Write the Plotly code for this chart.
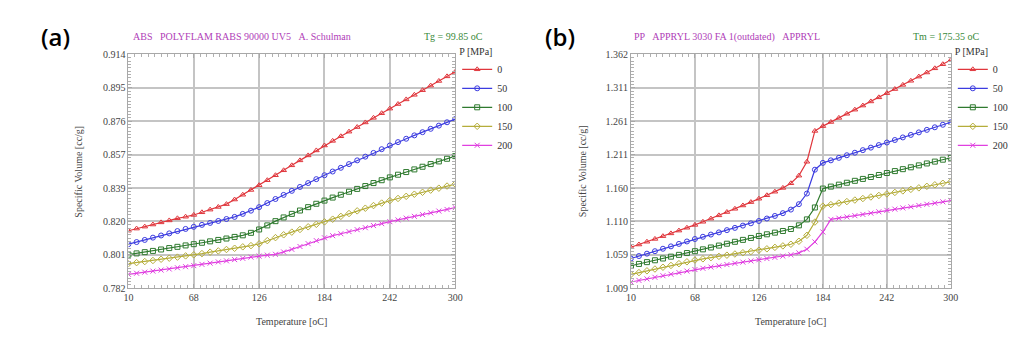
import plotly.graph_objects as go

# ---------------- data ----------------
temps = [10, 17.25, 24.5, 31.75, 39, 46.25, 53.5, 60.75, 68, 75.25, 82.5, 89.75, 97, 104.25,
         111.5, 118.75, 126, 133.25, 140.5, 147.75, 155, 162.25, 169.5, 176.75, 184, 191.25,
         198.5, 205.75, 213, 220.25, 227.5, 234.75, 242, 249.25, 256.5, 263.75, 271, 278.25,
         285.5, 292.75, 300]

pressures = ["0", "50", "100", "150", "200"]

abs_p0 = [0.8145, 0.8157, 0.8168, 0.8180, 0.8192, 0.8203, 0.8215, 0.8224, 0.8234, 0.8249, 0.8264,
          0.8279, 0.8295, 0.8321, 0.8348, 0.8375, 0.8402, 0.8430, 0.8458, 0.8486, 0.8514, 0.8542,
          0.8570, 0.8598, 0.8626, 0.8652, 0.8678, 0.8704, 0.8730, 0.8756, 0.8782, 0.8808, 0.8834,
          0.8860, 0.8886, 0.8912, 0.8938, 0.8964, 0.8990, 0.9016, 0.9042]
abs_p50 = [0.8069, 0.8081, 0.8093, 0.8106, 0.8118, 0.8130, 0.8143, 0.8155, 0.8167, 0.8178, 0.8189,
           0.8200, 0.8211, 0.8223, 0.8240, 0.8258, 0.8278, 0.8301, 0.8324, 0.8347, 0.8370, 0.8392,
           0.8414, 0.8436, 0.8458, 0.8479, 0.8500, 0.8521, 0.8542, 0.8563, 0.8584, 0.8605, 0.8626,
           0.8645, 0.8664, 0.8683, 0.8701, 0.8720, 0.8738, 0.8757, 0.8775]
abs_p100 = [0.8010, 0.8017, 0.8024, 0.8031, 0.8039, 0.8047, 0.8054, 0.8062, 0.8069, 0.8077, 0.8085,
            0.8093, 0.8101, 0.8110, 0.8119, 0.8133, 0.8152, 0.8175, 0.8199, 0.8220, 0.8240, 0.8259,
            0.8278, 0.8297, 0.8315, 0.8332, 0.8348, 0.8365, 0.8381, 0.8397, 0.8414, 0.8430, 0.8446,
            0.8461, 0.8476, 0.8491, 0.8506, 0.8521, 0.8536, 0.8551, 0.8566]
abs_p150 = [0.7959, 0.7965, 0.7971, 0.7977, 0.7984, 0.7990, 0.7996, 0.8003, 0.8009, 0.8016, 0.8024,
            0.8031, 0.8039, 0.8046, 0.8054, 0.8061, 0.8071, 0.8089, 0.8106, 0.8122, 0.8137, 0.8152,
            0.8167, 0.8181, 0.8195, 0.8210, 0.8226, 0.8242, 0.8257, 0.8272, 0.8287, 0.8301, 0.8315,
            0.8327, 0.8339, 0.8351, 0.8362, 0.8374, 0.8385, 0.8397, 0.8408]
abs_p200 = [0.7899, 0.7905, 0.7911, 0.7917, 0.7923, 0.7929, 0.7936, 0.7942, 0.7948, 0.7955, 0.7962,
            0.7969, 0.7975, 0.7982, 0.7989, 0.7996, 0.8002, 0.8007, 0.8012, 0.8025, 0.8040, 0.8056,
            0.8072, 0.8089, 0.8105, 0.8117, 0.8128, 0.8140, 0.8151, 0.8162, 0.8174, 0.8185, 0.8196,
            0.8206, 0.8216, 0.8226, 0.8236, 0.8246, 0.8256, 0.8265, 0.8275]

pp_p0 = [1.0710, 1.0751, 1.0793, 1.0835, 1.0877, 1.0919, 1.0961, 1.1004, 1.1047, 1.1094, 1.1142,
         1.1191, 1.1241, 1.1290, 1.1340, 1.1391, 1.1442, 1.1494, 1.1548, 1.1605, 1.1675, 1.1790,
         1.2000, 1.2465, 1.2538, 1.2600, 1.2662, 1.2724, 1.2786, 1.2848, 1.2910, 1.2972, 1.3035,
         1.3097, 1.3160, 1.3222, 1.3285, 1.3347, 1.3410, 1.3472, 1.3535]
pp_p50 = [1.0540, 1.0577, 1.0613, 1.0650, 1.0687, 1.0723, 1.0760, 1.0797, 1.0834, 1.0868, 1.0901,
          1.0934, 1.0968, 1.1002, 1.1036, 1.1071, 1.1106, 1.1143, 1.1182, 1.1224, 1.1278, 1.1360,
          1.1520, 1.1880, 1.1983, 1.2021, 1.2059, 1.2098, 1.2136, 1.2175, 1.2213, 1.2252, 1.2290,
          1.2328, 1.2367, 1.2405, 1.2443, 1.2481, 1.2520, 1.2558, 1.2596]
pp_p100 = [1.0430, 1.0458, 1.0485, 1.0513, 1.0540, 1.0568, 1.0595, 1.0622, 1.0650, 1.0678, 1.0706,
           1.0735, 1.0763, 1.0792, 1.0821, 1.0850, 1.0880, 1.0905, 1.0930, 1.0955, 1.0985, 1.1040,
           1.1130, 1.1310, 1.1595, 1.1625, 1.1654, 1.1683, 1.1712, 1.1741, 1.1770, 1.1800, 1.1830,
           1.1859, 1.1888, 1.1916, 1.1945, 1.1974, 1.2002, 1.2031, 1.2060]
pp_p150 = [1.0300, 1.0327, 1.0354, 1.0381, 1.0408, 1.0435, 1.0462, 1.0490, 1.0517, 1.0535, 1.0553,
           1.0572, 1.0590, 1.0608, 1.0627, 1.0645, 1.0665, 1.0686, 1.0708, 1.0730, 1.0755, 1.0800,
           1.0890, 1.1090, 1.1330, 1.1353, 1.1376, 1.1399, 1.1422, 1.1445, 1.1468, 1.1491, 1.1514,
           1.1537, 1.1560, 1.1583, 1.1606, 1.1629, 1.1652, 1.1675, 1.1698]
pp_p200 = [1.0185, 1.0209, 1.0232, 1.0256, 1.0280, 1.0303, 1.0327, 1.0350, 1.0373, 1.0392, 1.0411,
           1.0429, 1.0448, 1.0467, 1.0485, 1.0503, 1.0521, 1.0539, 1.0557, 1.0576, 1.0596, 1.0625,
           1.0680, 1.0790, 1.0940, 1.1130, 1.1148, 1.1167, 1.1186, 1.1205, 1.1225, 1.1245, 1.1267,
           1.1285, 1.1303, 1.1321, 1.1340, 1.1358, 1.1376, 1.1395, 1.1413]

x_ticks = [10, 68, 126, 184, 242, 300]
abs_yticks = [0.782, 0.80086, 0.81971, 0.83857, 0.85743, 0.87629, 0.89514, 0.914]
abs_ylabels = ["0.782", "0.801", "0.820", "0.839", "0.857", "0.876", "0.895", "0.914"]
pp_yticks = [1.009, 1.05943, 1.10986, 1.16029, 1.21071, 1.26114, 1.31157, 1.362]
pp_ylabels = ["1.009", "1.059", "1.110", "1.160", "1.211", "1.261", "1.311", "1.362"]

# ---------------- styles ----------------
colors = ["#e0363c", "#3c3ce0", "#2f7a2f", "#b5ad3a", "#e040e0"]
symbols = ["triangle-up-open", "circle-open", "square-open", "diamond-open", "x-thin-open"]
SERIF = "Liberation Serif"
TICKC = "#a8a8a8"

fig = go.Figure()

abs_series = [abs_p0, abs_p50, abs_p100, abs_p150, abs_p200]
pp_series = [pp_p0, pp_p50, pp_p100, pp_p150, pp_p200]

for i, (lab, ys) in enumerate(zip(pressures, abs_series)):
    fig.add_trace(go.Scatter(
        x=temps, y=ys, mode="lines+markers", name=lab, legend="legend",
        line=dict(color=colors[i], width=1.2),
        marker=dict(symbol=symbols[i], size=5, color=colors[i], line=dict(width=1, color=colors[i])),
        xaxis="x", yaxis="y"))

for i, (lab, ys) in enumerate(zip(pressures, pp_series)):
    fig.add_trace(go.Scatter(
        x=temps, y=ys, mode="lines+markers", name=lab, legend="legend2",
        line=dict(color=colors[i], width=1.2),
        marker=dict(symbol=symbols[i], size=5, color=colors[i], line=dict(width=1, color=colors[i])),
        xaxis="x2", yaxis="y2"))

W, H = 1024, 350
top_px, bot_px = 51, 292.5
ydom = [1 - bot_px / H, 1 - top_px / H]


def xaxis_cfg(dom, anchor):
    return dict(domain=dom, anchor=anchor, range=[10, 300], tickvals=x_ticks,
                ticktext=[str(t) for t in x_ticks], showgrid=True, gridcolor="#c4c4c4", gridwidth=1.5,
                showline=True, linecolor=TICKC, linewidth=1, mirror=True,
                ticks="inside", ticklen=4, tickcolor=TICKC,
                minor=dict(ticks="inside", ticklen=3, tick0=10, dtick=5.8, tickcolor="#b0b0b0", showgrid=False),
                tickfont=dict(family=SERIF, size=10, color="#444444"), zeroline=False, fixedrange=True)


def yaxis_cfg(dom, anchor, rng, tv, tt):
    return dict(domain=dom, anchor=anchor, range=rng, tickvals=tv, ticktext=tt,
                showgrid=True, gridcolor="#c4c4c4", gridwidth=1.5,
                showline=True, linecolor=TICKC, linewidth=1, mirror=True,
                ticks="inside", ticklen=4, tickcolor=TICKC,
                minor=dict(ticks="inside", ticklen=3, tick0=rng[0], dtick=(rng[1] - rng[0]) / 70,
                           tickcolor="#b0b0b0", showgrid=False),
                tickfont=dict(family=SERIF, size=10, color="#444444"), zeroline=False, fixedrange=True)


def xmirror_cfg(dom, anchor, overlay):
    return dict(domain=dom, anchor=anchor, overlaying=overlay, side="top", range=[10, 300],
                tickvals=x_ticks, showticklabels=False, showgrid=False, zeroline=False,
                ticks="inside", ticklen=4, tickcolor=TICKC,
                minor=dict(ticks="inside", ticklen=3, tick0=10, dtick=5.8, tickcolor="#b0b0b0", showgrid=False),
                fixedrange=True)


def ymirror_cfg(dom, anchor, overlay, rng, tv):
    return dict(domain=dom, anchor=anchor, overlaying=overlay, side="right", range=rng,
                tickvals=tv, showticklabels=False, showgrid=False, zeroline=False,
                ticks="inside", ticklen=4, tickcolor=TICKC,
                minor=dict(ticks="inside", ticklen=3, tick0=rng[0], dtick=(rng[1] - rng[0]) / 70,
                           tickcolor="#b0b0b0", showgrid=False),
                fixedrange=True)


left_dom = [125 / W, 456 / W]
right_dom = [634 / W, 958 / W]

# invisible carrier traces for mirrored tick axes
fig.add_trace(go.Scatter(x=[None], y=[None], xaxis="x3", yaxis="y3", showlegend=False, hoverinfo="skip"))
fig.add_trace(go.Scatter(x=[None], y=[None], xaxis="x4", yaxis="y4", showlegend=False, hoverinfo="skip"))

legend_common = dict(font=dict(family=SERIF, size=10, color="#333333"),
                     bgcolor="rgba(0,0,0,0)", tracegroupgap=0, itemwidth=30,
                     xanchor="left", yanchor="top")

fig.update_layout(
    width=W, height=H, margin=dict(l=0, r=0, t=0, b=0),
    paper_bgcolor="white", plot_bgcolor="white",
    xaxis=xaxis_cfg(left_dom, "y"),
    yaxis=yaxis_cfg(ydom, "x", [0.782, 0.914], abs_yticks, abs_ylabels),
    xaxis2=xaxis_cfg(right_dom, "y2"),
    yaxis2=yaxis_cfg(ydom, "x2", [1.009, 1.362], pp_yticks, pp_ylabels),
    xaxis3=xmirror_cfg(left_dom, "y3", "x"),
    yaxis3=ymirror_cfg(ydom, "x3", "y", [0.782, 0.914], abs_yticks),
    xaxis4=xmirror_cfg(right_dom, "y4", "x2"),
    yaxis4=ymirror_cfg(ydom, "x4", "y2", [1.009, 1.362], pp_yticks),
    legend=dict(x=458 / W, y=1 - 38 / H, title=dict(text="P [MPa]", font=dict(family=SERIF, size=10, color="#333333")),
                **legend_common),
    legend2=dict(x=960 / W, y=1 - 38 / H, title=dict(text="P [MPa]", font=dict(family=SERIF, size=10, color="#333333")),
                 **legend_common),
    showlegend=True,
)

ann = []
ann.append(dict(text="(a)", x=34 / W, y=1 - 33 / H, xref="paper", yref="paper", xanchor="left", yanchor="middle",
                showarrow=False, font=dict(family="Open Sans", size=24, color="#000000", weight=600)))
ann.append(dict(text="(b)", x=545 / W, y=1 - 33 / H, xref="paper", yref="paper", xanchor="left", yanchor="middle",
                showarrow=False, font=dict(family="Open Sans", size=24, color="#000000", weight=600)))
ann.append(dict(text="ABS &nbsp;&nbsp;POLYFLAM RABS 90000 UV5 &nbsp;&nbsp;A. Schulman", x=128 / W, y=1 - 33 / H,
                xref="paper", yref="paper", xanchor="left", yanchor="middle", showarrow=False,
                font=dict(family=SERIF, size=10, color="#b040b8")))
ann.append(dict(text="Tg = 99.85 oC", x=486 / W, y=1 - 33 / H, xref="paper", yref="paper", xanchor="right",
                yanchor="middle", showarrow=False, font=dict(family=SERIF, size=10, color="#3a8a3a")))
ann.append(dict(text="PP &nbsp;&nbsp;APPRYL 3030 FA 1(outdated) &nbsp;&nbsp;APPRYL", x=635 / W, y=1 - 33 / H,
                xref="paper", yref="paper", xanchor="left", yanchor="middle", showarrow=False,
                font=dict(family=SERIF, size=10, color="#b040b8")))
ann.append(dict(text="Tm = 175.35 oC", x=990 / W, y=1 - 33 / H, xref="paper", yref="paper", xanchor="right",
                yanchor="middle", showarrow=False, font=dict(family=SERIF, size=10, color="#3a8a3a")))
for xc in (75, 585):
    ann.append(dict(text="Specific Volume [cc/g]", x=xc / W, y=1 - 172 / H, xref="paper", yref="paper",
                    xanchor="center", yanchor="middle", textangle=-90, showarrow=False,
                    font=dict(family=SERIF, size=10, color="#444444")))
for xc in (290, 796):
    ann.append(dict(text="Temperature [oC]", x=xc / W, y=1 - 327 / H, xref="paper", yref="paper",
                    xanchor="center", yanchor="middle", showarrow=False,
                    font=dict(family=SERIF, size=10, color="#444444")))
fig.update_layout(annotations=ann)

fig.write_html("out.html")
